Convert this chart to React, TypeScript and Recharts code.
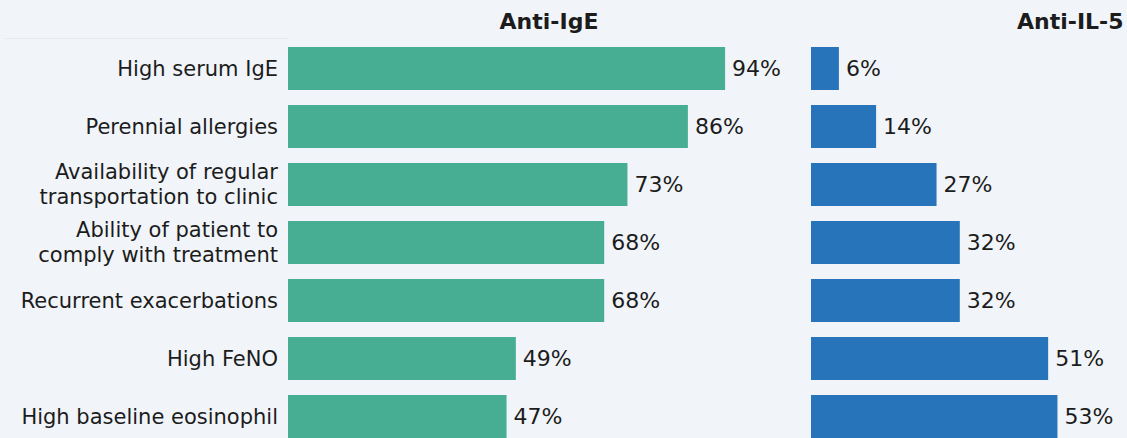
import React from "react";
import { BarChart, Bar, XAxis, YAxis, LabelList } from "recharts";

const categories = [
  "High serum IgE",
  "Perennial allergies",
  "Availability of regular\ntransportation to clinic",
  "Ability of patient to\ncomply with treatment",
  "Recurrent exacerbations",
  "High FeNO",
  "High baseline eosinophil",
];
const antiIgE = [94, 86, 73, 68, 68, 49, 47];
const antiIL5 = [6, 14, 27, 32, 32, 51, 53];

const data = categories.map((name, i) => ({ name, ige: antiIgE[i], il5: antiIL5[i] }));

const FONT = "'DejaVu Sans', Verdana, sans-serif";
const TEXT = "#1c1c1c";

function CatTick(props: any) {
  const { x, y, payload } = props;
  const lines: string[] = String(payload.value).split("\n");
  const lh = 25;
  const start = -((lines.length - 1) * lh) / 2;
  return (
    <text x={x} y={y} textAnchor="end" fill={TEXT} fontSize={21} fontFamily={FONT}>
      {lines.map((l, i) => (
        <tspan key={i} x={x} dy={i === 0 ? start + 7.5 : lh}>
          {l}
        </tspan>
      ))}
    </text>
  );
}

const pct = (v: any) => `${v}%`;

export default function App() {
  return (
    <div
      style={{
        position: "absolute",
        left: 0,
        top: 0,
        width: 1127,
        height: 438,
        overflow: "hidden",
        background: "#f1f5f9",
        fontFamily: FONT,
      }}
    >
      <div style={{ position: "absolute", left: 5, top: 38, width: 283, height: 1, background: "#e5eaf0" }} />
      <div
        style={{
          position: "absolute",
          left: 288,
          top: 9,
          width: 522,
          textAlign: "center",
          fontWeight: "bold",
          fontSize: 22,
          color: TEXT,
        }}
      >
        Anti-IgE
      </div>
      <div
        style={{
          position: "absolute",
          left: 1017,
          top: 9,
          fontWeight: "bold",
          fontSize: 22,
          color: TEXT,
          whiteSpace: "nowrap",
        }}
      >
        Anti-IL-5
      </div>

      <div style={{ position: "absolute", left: 0, top: 0 }}>
        <BarChart
          width={810}
          height={446}
          data={data}
          layout="vertical"
          margin={{ top: 39, right: 57, bottom: 1, left: 0 }}
          barCategoryGap={0}
        >
          <XAxis type="number" domain={[0, 100]} hide />
          <YAxis
            type="category"
            dataKey="name"
            width={288}
            axisLine={false}
            tickLine={false}
            tickSize={0}
            tickMargin={10}
            tick={<CatTick />}
            interval={0}
          />
          <Bar dataKey="ige" fill="#47ae93" barSize={43} isAnimationActive={false}>
            <LabelList
              dataKey="ige"
              position="right"
              offset={7}
              formatter={pct}
              fill={TEXT}
              fontSize={22}
              fontFamily={FONT}
            />
          </Bar>
        </BarChart>
      </div>

      <div style={{ position: "absolute", left: 811, top: 0 }}>
        <BarChart
          width={316}
          height={446}
          data={data}
          layout="vertical"
          margin={{ top: 39, right: 37, bottom: 1, left: 0 }}
        >
          <XAxis type="number" domain={[0, 60]} hide />
          <YAxis type="category" dataKey="name" hide />
          <Bar dataKey="il5" fill="#2874bb" barSize={43} isAnimationActive={false}>
            <LabelList
              dataKey="il5"
              position="right"
              offset={7}
              formatter={pct}
              fill={TEXT}
              fontSize={22}
              fontFamily={FONT}
            />
          </Bar>
        </BarChart>
      </div>
    </div>
  );
}
